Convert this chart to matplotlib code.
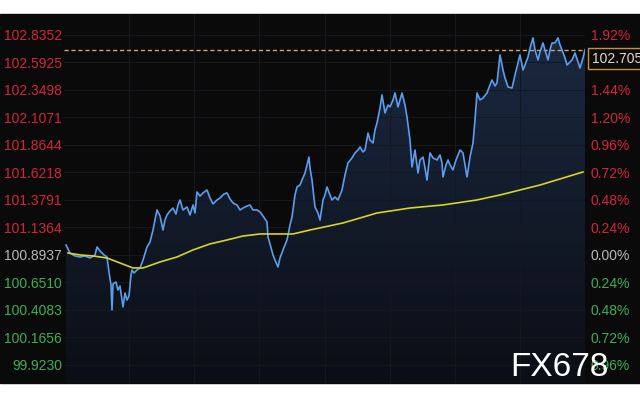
"""USD index intraday chart, dark terminal style (FX678 look)."""
import numpy as np
import matplotlib
matplotlib.use("Agg")
import matplotlib.pyplot as plt  # noqa: E402
from matplotlib.patches import Rectangle  # noqa: E402
from matplotlib.colors import LinearSegmentedColormap  # noqa: E402

plt.rcParams["font.family"] = ["Liberation Sans", "DejaVu Sans"]

# session bars (0 .. 521) and prices
bars = [2, 6, 11, 16, 21, 26, 31, 33, 36, 40,
        43, 45, 47, 48, 49, 52, 54, 56, 59, 61,
        63, 65, 67, 68, 70, 73, 76, 79, 83, 86,
        89, 91, 93, 96, 99, 101, 103, 106, 109, 112,
        114, 116, 119, 123, 126, 129, 131, 133, 136, 139,
        143, 146, 149, 153, 156, 160, 163, 166, 169, 173,
        176, 179, 183, 186, 189, 193, 196, 199, 203, 204,
        206, 209, 211, 214, 216, 219, 223, 226, 228, 231,
        233, 236, 238, 241, 243, 245, 246, 248, 251, 254,
        256, 259, 261, 263, 266, 268, 271, 274, 278, 281,
        284, 288, 291, 294, 296, 299, 301, 304, 306, 309,
        311, 313, 316, 318, 321, 324, 326, 329, 331, 334,
        336, 338, 341, 343, 346, 348, 351, 354, 356, 359,
        361, 363, 366, 369, 373, 376, 378, 379, 382, 384,
        386, 389, 392, 396, 399, 401, 403, 406, 409, 411,
        413, 416, 419, 423, 426, 428, 431, 433, 436, 439,
        441, 444, 448, 451, 453, 456, 459, 461, 464, 466,
        469, 471, 474, 476, 479, 481, 484, 486, 488, 491,
        494, 496, 498, 501, 503, 506, 508, 511, 514, 516,
        519, 521]
price = [100.982, 100.911, 100.885, 100.876, 100.885, 100.867, 100.894, 100.964, 100.929, 100.894,
         100.876, 100.743, 100.629, 100.408, 100.638, 100.655, 100.585, 100.620, 100.435, 100.558,
         100.496, 100.532, 100.717, 100.761, 100.735, 100.761, 100.779, 100.849, 100.964, 101.008,
         101.114, 101.202, 101.291, 101.238, 101.114, 101.202, 101.247, 101.282, 101.308, 101.255,
         101.335, 101.379, 101.291, 101.317, 101.247, 101.335, 101.264, 101.450, 101.414, 101.441,
         101.467, 101.397, 101.344, 101.379, 101.397, 101.432, 101.441, 101.388, 101.352, 101.335,
         101.291, 101.308, 101.326, 101.335, 101.291, 101.291, 101.273, 101.238, 101.185, 101.052,
         100.991, 100.894, 100.849, 100.788, 100.867, 100.938, 101.026, 101.158, 101.229, 101.423,
         101.494, 101.511, 101.555, 101.617, 101.688, 101.758, 101.661, 101.555, 101.317, 101.264,
         101.202, 101.379, 101.423, 101.494, 101.423, 101.379, 101.405, 101.379, 101.467, 101.600,
         101.706, 101.750, 101.794, 101.820, 101.847, 101.803, 101.820, 101.970, 101.908, 101.882,
         101.997, 102.058, 102.191, 102.306, 102.147, 102.217, 102.200, 102.262, 102.323, 102.200,
         102.262, 102.323, 102.217, 102.111, 101.908, 101.670, 101.820, 101.617, 101.732, 101.758,
         101.661, 101.555, 101.794, 101.750, 101.732, 101.776, 101.706, 101.582, 101.688, 101.732,
         101.688, 101.644, 101.732, 101.820, 101.794, 101.688, 101.582, 101.758, 101.882, 102.085,
         102.323, 102.262, 102.279, 102.323, 102.394, 102.438, 102.385, 102.412, 102.659, 102.526,
         102.456, 102.376, 102.367, 102.482, 102.553, 102.659, 102.526, 102.570, 102.641, 102.720,
         102.809, 102.703, 102.615, 102.685, 102.765, 102.703, 102.615, 102.703, 102.765, 102.765,
         102.809, 102.747, 102.703, 102.632, 102.570, 102.597, 102.615, 102.676, 102.597, 102.544,
         102.632, 102.705]

ma_bars = [4, 16, 29, 43, 56, 69, 79, 96, 113, 129, 146, 163, 179,
           196, 213, 229, 246, 279, 313, 346, 379, 413, 436, 476, 519]
ma_price = [100.911, 100.894, 100.885, 100.867, 100.823, 100.779, 100.779, 100.832,
            100.876, 100.938, 100.991, 101.026, 101.061, 101.079, 101.079, 101.079,
            101.114, 101.176, 101.264, 101.308, 101.335, 101.379, 101.423, 101.511, 101.626]

base = 100.8937
ticks = [99.9230, 100.1656, 100.4083, 100.6510, 100.8937, 101.1364, 101.3791,
         101.6218, 101.8644, 102.1071, 102.3498, 102.5925, 102.8352]
last = 102.705
n_bars = 521
y_lo, y_hi = 99.764, 103.020

RED, GREEN, GREY = "#d4243a", "#3fae55", "#b8b8b8"

fig = plt.figure(figsize=(6.4, 4), dpi=100, facecolor="white")
fig.patches.append(Rectangle((0, 0.0425), 1, 0.9225, transform=fig.transFigure,
                             color="#0a0a0a", zorder=-10))
ax = fig.add_axes([64 / 640, 0.0425, 521 / 640, 0.9225])
ax.set_facecolor("#0a0a0a")
for s in ax.spines.values():
    s.set_visible(False)

# gradient under the price line
poly = ax.fill_between(bars, price, y_lo, color="none", lw=0)
cmap = LinearSegmentedColormap.from_list("fill", ["#0b0e15", "#1a2840"])
grad = np.linspace(0, 1, 256).reshape(-1, 1)
im = ax.imshow(grad, extent=[0, n_bars, y_lo, max(price)], origin="lower",
               aspect="auto", cmap=cmap, zorder=1)
im.set_clip_path(poly.get_paths()[0], transform=ax.transData)

ax.plot(bars, price, color="#5c9ded", lw=1.2, zorder=4)
ax.plot(ma_bars, ma_price, color="#d8d424", lw=1.2, zorder=4)
ax.axhline(last, color="#d9a06a", lw=1.0, ls=(0, (3, 2)), zorder=3)

ax.set_xlim(0, n_bars)
ax.set_ylim(y_lo, y_hi)
ax.set_xticks(np.arange(1, 8) * n_bars / 8)
ax.set_xticklabels([])
ax.tick_params(axis="x", length=0)
ax.set_yticks(ticks)
ax.set_yticklabels([f"{v:.4f}" for v in ticks], fontsize=10)
ax.tick_params(axis="y", length=0, pad=1.5)
for lab, v in zip(ax.get_yticklabels(), ticks):
    lab.set_color(GREY if abs(v - base) < 1e-6 else (RED if v > base else GREEN))
ax.grid(True, color="#15181e", lw=0.7)
ax.set_axisbelow(False)
for gl in ax.get_xgridlines() + ax.get_ygridlines():
    gl.set_zorder(2)

ax2 = ax.twinx()
ax2.set_ylim(y_lo, y_hi)
for s in ax2.spines.values():
    s.set_visible(False)
pct = [(v / base - 1) * 100 for v in ticks]
ax2.set_yticks(ticks)
ax2.set_yticklabels([f"{abs(p):.2f}%" for p in pct], fontsize=10)
ax2.tick_params(axis="y", length=0, pad=4)
for lab, p in zip(ax2.get_yticklabels(), pct):
    lab.set_color(GREY if abs(p) < 1e-6 else (RED if p > 0 else GREEN))

ax2.annotate(f"{last:.3f}", xy=(1, last), xycoords=("axes fraction", "data"),
             xytext=(5, -6.5), textcoords="offset points", va="center", ha="left",
             fontsize=10, color="#e6dcc4", annotation_clip=False, zorder=6,
             bbox=dict(boxstyle="square,pad=0.25", fc="#0a0a0a", ec="#c8922c", lw=1.0))

fig.text(0.798, 0.06, "FX678", fontsize=24, color="white", va="baseline",
         ha="left", zorder=10)

fig.savefig("out.png", dpi=100, facecolor=fig.get_facecolor())
